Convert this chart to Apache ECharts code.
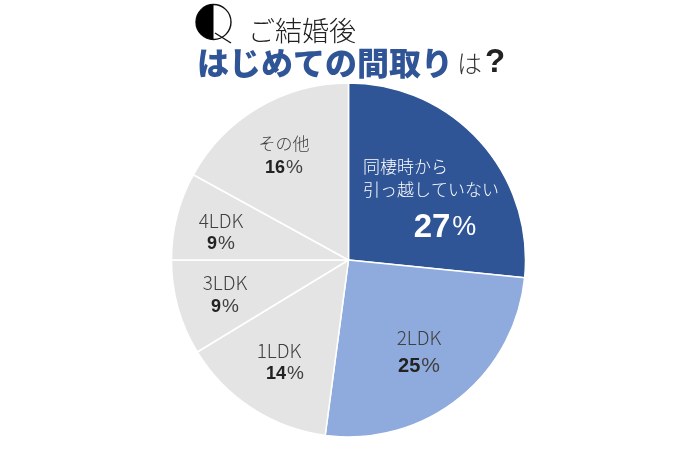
<!DOCTYPE html>
<html><head><meta charset="utf-8">
<style>html,body{margin:0;padding:0;background:#fff}#c{width:680px;height:450px}</style>
<script src="https://cdn.jsdelivr.net/npm/echarts@6/dist/echarts.min.js"></script>
</head><body><div id="c"></div>
<script>
const categories = ['同棲時から\n引っ越していない','2LDK','1LDK','3LDK','4LDK','その他'];
const sliceShares = [26.6,25.5,14.2,8.7,8.0,17.0];
const printedPercents = [27,25,14,9,9,16];
const sliceColors = ['#2F5597','#8FAADC','#E4E4E4','#E4E4E4','#E4E4E4','#E4E4E4'];
const labelCenters = [[431,205],[419,352],[279,362.5],[225,295],[221,232.5],[284,156]];
const FONT = '"Noto Sans CJK JP","Liberation Sans",sans-serif';
const NUM = '"Liberation Sans",sans-serif';
const chart = echarts.init(document.getElementById('c'), null, {renderer:'canvas'});
function grayRich(nameSize, numSize, lh, indent){
  return {
    n:{fontFamily:FONT,fontSize:nameSize,fontWeight:300,color:'#404040',lineHeight:lh},
    v:{fontFamily:NUM,fontSize:numSize,fontWeight:'bold',color:'#222',lineHeight:lh,padding:[0,0,0,indent]},
    p:{fontFamily:NUM,fontSize:numSize+1,color:'#404040',lineHeight:lh,padding:[0,0,0,1]}
  };
}
const richByIndex = [
  {
    n0:{fontFamily:FONT,fontSize:17,fontWeight:300,color:'#fff',lineHeight:23,align:'left'},
    v0:{fontFamily:NUM,fontSize:33,fontWeight:'bold',color:'#fff',lineHeight:54,padding:[0,0,0,28]},
    p0:{fontFamily:NUM,fontSize:27,color:'#fff',lineHeight:54,padding:[0,0,0,2]}
  },
  grayRich(19,20,28,0), grayRich(19,18,23,12), grayRich(19,18,24,0), grayRich(19,18,23,0), grayRich(17,18,24,0)
];
chart.setOption({
  animation:false,
  backgroundColor:'#fff',
  title:[
    {text:'ご結婚後',left:243,top:8,textStyle:{fontFamily:FONT,fontSize:27,fontWeight:300,color:'#222',lineHeight:36}},
    {text:'{a|はじめての間取り}{b|は}{c|?}',left:192,top:38,textStyle:{rich:{
      a:{fontFamily:FONT,fontSize:32,fontWeight:900,color:'#2F5597',lineHeight:40},
      b:{fontFamily:FONT,fontSize:25,fontWeight:300,color:'#333',lineHeight:40,padding:[0,3,0,4]},
      c:{fontFamily:NUM,fontSize:33,fontWeight:'bold',color:'#222',lineHeight:40}
    }}}
  ],
  graphic:[
    {type:'circle',shape:{cx:213.5,cy:22,r:17.5},style:{fill:'#fff',stroke:'#111',lineWidth:1.4}},
    {type:'sector',shape:{cx:213.5,cy:22,r:17.5,r0:0,startAngle:Math.PI/2,endAngle:Math.PI*1.5},style:{fill:'#000'}},
    {type:'line',shape:{x1:215,y1:33,x2:231,y2:43},style:{stroke:'#111',lineWidth:1.4}}
  ],
  series:[{
    type:'pie',
    center:[348.5,260],
    radius:[0,177],
    startAngle:90,
    clockwise:true,
    silent:true,
    itemStyle:{borderColor:'#fff',borderWidth:1.5},
    labelLine:{show:false},
    data:categories.map((name,i)=>({
      name,value:sliceShares[i],
      itemStyle:{color:sliceColors[i]},
      label:{
        show:true,position:'inside',
        formatter:i===0
          ? name.split('\n').map(s=>`{n0|${s}}`).join('\n')+`\n{v0|${printedPercents[i]}}{p0|%}`
          : `{n|${name}}\n{v|${printedPercents[i]}}{p|%}`,
        rich:richByIndex[i]
      }
    })),
    labelLayout(p){
      const c = labelCenters[p.dataIndex];
      return {x:c[0],y:c[1],align:'center',verticalAlign:'middle'};
    }
  }]
});
</script></body></html>
